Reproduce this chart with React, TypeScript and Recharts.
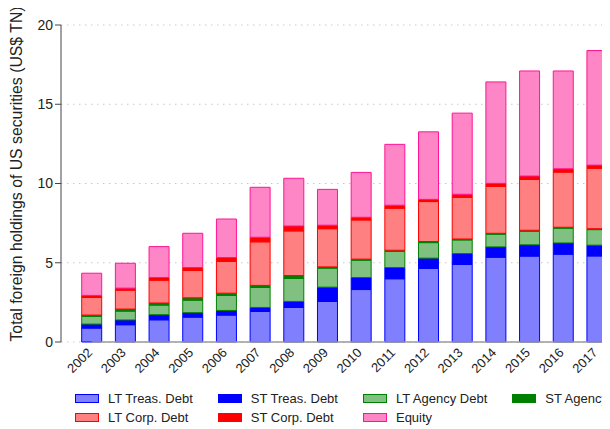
import React from 'react';
import { BarChart, Bar, XAxis, YAxis, CartesianGrid, ReferenceLine, Legend } from 'recharts';

const years = ['2002', '2003', '2004', '2005', '2006', '2007', '2008', '2009', '2010', '2011', '2012', '2013', '2014', '2015', '2016', '2017', '2018'];
const ltTreas = [0.88, 1.09, 1.40, 1.57, 1.70, 1.93, 2.18, 2.56, 3.31, 3.99, 4.64, 4.89, 5.35, 5.42, 5.54, 5.43, null];
const stTreas = [0.25, 0.30, 0.32, 0.28, 0.29, 0.25, 0.38, 0.90, 0.76, 0.71, 0.65, 0.69, 0.65, 0.71, 0.71, 0.68, null];
const ltAgency = [0.48, 0.56, 0.61, 0.79, 0.95, 1.26, 1.45, 1.20, 1.09, 1.01, 0.98, 0.86, 0.80, 0.86, 0.93, 0.98, null];
const stAgency = [0.09, 0.13, 0.13, 0.15, 0.14, 0.13, 0.18, 0.08, 0.07, 0.08, 0.07, 0.06, 0.06, 0.06, 0.06, 0.06, null];
const ltCorp = [1.11, 1.19, 1.44, 1.72, 2.00, 2.75, 2.82, 2.41, 2.47, 2.65, 2.52, 2.63, 2.96, 3.21, 3.48, 3.81, null];
const stCorp = [0.13, 0.13, 0.17, 0.19, 0.25, 0.29, 0.31, 0.22, 0.17, 0.19, 0.14, 0.19, 0.19, 0.21, 0.21, 0.20, null];
const equity = [1.40, 1.57, 1.95, 2.16, 2.43, 3.15, 3.01, 2.26, 2.83, 3.84, 4.26, 5.12, 6.40, 6.63, 6.17, 7.23, null];
const yTicks = [0, 5, 10, 15, 20];
const yTitle = 'Total foreign holdings of US securities (US$ TN)';

const series = [
  { key: 'ltTreas', name: 'LT Treas. Debt', fill: '#8080ff', stroke: '#0000ff' },
  { key: 'stTreas', name: 'ST Treas. Debt', fill: '#0000ff', stroke: '#0000ff' },
  { key: 'ltAgency', name: 'LT Agency Debt', fill: '#80c080', stroke: '#008000' },
  { key: 'stAgency', name: 'ST Agency Debt', fill: '#008000', stroke: '#008000' },
  { key: 'ltCorp', name: 'LT Corp. Debt', fill: '#ff8080', stroke: '#ff0000' },
  { key: 'stCorp', name: 'ST Corp. Debt', fill: '#ff0000', stroke: '#ff0000' },
  { key: 'equity', name: 'Equity', fill: '#ff86c6', stroke: '#ff1493' },
];

const data = years.map((year, i) => ({
  year,
  ltTreas: ltTreas[i],
  stTreas: stTreas[i],
  ltAgency: ltAgency[i],
  stAgency: stAgency[i],
  ltCorp: ltCorp[i],
  stCorp: stCorp[i],
  equity: equity[i],
}));

const FONT = '"Liberation Sans", Arial, sans-serif';

const XTick = (props: any) => {
  const { x, y, payload } = props;
  return (
    <g transform={`translate(${x + 1.5},${y + 11.3}) rotate(-45)`}>
      <text x={0} y={0} textAnchor="end" fontSize={13} fill="#222" fontFamily={FONT}>
        {payload.value}
      </text>
    </g>
  );
};

const YTitle = () => (
  <text
    transform="translate(13.5,166) rotate(-90)"
    x={0}
    y={0}
    textAnchor="middle"
    fontSize={15.8}
    fill="#222"
    fontFamily={FONT}
  >
    {yTitle}
  </text>
);

const LegendContent = () => (
  <div
    style={{
      display: 'grid',
      gridTemplateColumns: 'repeat(4, max-content)',
      columnGap: 25,
      paddingLeft: 67,
      fontFamily: FONT,
      fontSize: 13,
      color: '#222',
    }}
  >
    {series.map((s) => (
      <div key={s.key} style={{ display: 'flex', alignItems: 'center', height: 19, whiteSpace: 'nowrap' }}>
        <span
          style={{
            display: 'inline-block',
            width: 22,
            height: 7,
            background: s.fill,
            border: `1px solid ${s.stroke}`,
            marginRight: 9,
          }}
        />
        <span>{s.name}</span>
      </div>
    ))}
  </div>
);

export default function App() {
  return (
    <div
      style={{
        width: 602,
        height: 421,
        overflow: 'hidden',
        position: 'relative',
        fontFamily: FONT,
      }}
    >
      <BarChart
        width={663}
        height={421}
        data={data}
        margin={{ top: 17, right: 10, bottom: 0, left: 0 }}
      >
        <CartesianGrid vertical={false} stroke="#c8c8c8" strokeDasharray="1.5 4.5" />
        <XAxis
          dataKey="year"
          height={87}
          padding={{ left: 13.7, right: 13.7 }}
          axisLine={false}
          tickLine={false}
          tickSize={0}
          tickMargin={0}
          interval={0}
          tick={<XTick />}
        />
        <YAxis
          width={53}
          domain={[0, 20]}
          ticks={yTicks}
          interval={0}
          axisLine={{ stroke: '#444' }}
          tickLine={{ stroke: '#444' }}
          tick={{ fontSize: 14, fill: '#222', fontFamily: FONT }}
          label={() => <YTitle />}
        />
        {series.map((s) => (
          <Bar
            key={s.key}
            dataKey={s.key}
            name={s.name}
            stackId="a"
            barSize={20}
            fill={s.fill}
            stroke={s.stroke}
            strokeWidth={1}
            isAnimationActive={false}
          />
        ))}
        <ReferenceLine
          segment={[{ x: '2002', y: 0 }, { x: '2018', y: 0 }]}
          stroke="#9a9a9a"
          strokeWidth={1.5}
        />
        <Legend
          layout="horizontal"
          verticalAlign="middle"
          align="center"
          wrapperStyle={{ top: 381, left: 0, width: 663 }}
          content={() => <LegendContent />}
        />
      </BarChart>
    </div>
  );
}
